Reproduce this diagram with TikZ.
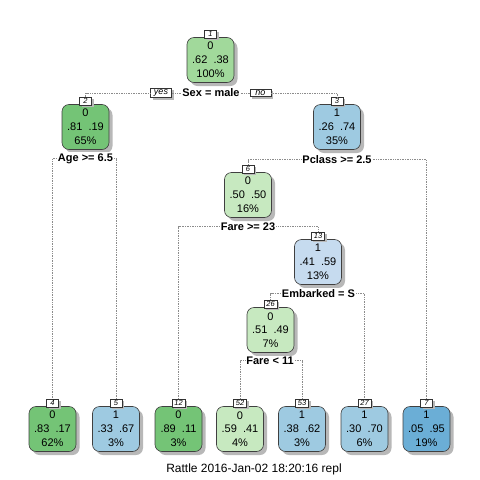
\documentclass[tikz,border=0pt]{standalone}
\usepackage{fontspec}
\setmainfont{Liberation Sans}
\definecolor{gA}{HTML}{C7E9C0}
\definecolor{gB}{HTML}{A1D99B}
\definecolor{gC}{HTML}{74C476}
\definecolor{bA}{HTML}{C6DBEF}
\definecolor{bB}{HTML}{9ECAE1}
\definecolor{bC}{HTML}{6BAED6}
\definecolor{shade}{HTML}{B8B8B8}
\begin{document}
\begin{tikzpicture}[x=1pt,y=-1pt,
  shadowed/.style={preaction={fill=shade, transform canvas={shift={(#1,-#1)}}}},
  box/.style={draw=black!75, line width=0.6pt, rounded corners=7pt,
    minimum width=47pt, minimum height=45pt, inner sep=0pt, align=center,
    font=\fontsize{11}{13.8}\selectfont, shadowed=3.5pt},
  numlbl/.style={draw=black!80, line width=0.5pt, fill=white, anchor=south,
    font=\fontsize{7.5}{8}\selectfont\itshape, inner xsep=2.5pt, inner ysep=0.5pt,
    minimum width=12pt, minimum height=7.5pt, shadowed=2pt},
  split/.style={fill=white, inner sep=1pt, font=\fontsize{11}{13}\selectfont\bfseries},
  yesno/.style={draw=black!80, line width=0.5pt, fill=white, inner xsep=3pt, inner ysep=1.2pt,
    minimum width=21pt, font=\fontsize{9}{10}\selectfont\itshape, shadowed=2pt},
  conn/.style={draw=black!45, line width=0.6pt, dash pattern=on 0.6pt off 1.1pt}
]
\useasboundingbox (0,0) rectangle (480,480);

% tree nodes (class, probabilities, share of cases)
\node[box, fill=gB] (n1)  at (210.5,60)  {0\\.62\ \ .38\\100\%};
\node[box, fill=gC] (n2)  at (85.5,127)  {0\\.81\ \ .19\\65\%};
\node[box, fill=bB] (n3)  at (337,127)   {1\\.26\ \ .74\\35\%};
\node[box, fill=gA] (n6)  at (248,195)   {0\\.50\ \ .50\\16\%};
\node[box, fill=bA] (n13) at (318,262)   {1\\.41\ \ .59\\13\%};
\node[box, fill=gA] (n26) at (270.5,330) {0\\.51\ \ .49\\7\%};
\node[box, fill=gC] (n4)  at (52.5,429)  {0\\.83\ \ .17\\62\%};
\node[box, fill=bB] (n5)  at (116,429)   {1\\.33\ \ .67\\3\%};
\node[box, fill=gC] (n12) at (178.5,429) {0\\.89\ \ .11\\3\%};
\node[box, fill=gA] (n52) at (240,429)   {0\\.59\ \ .41\\4\%};
\node[box, fill=bB] (n53) at (302,429)   {1\\.38\ \ .62\\3\%};
\node[box, fill=bB] (n27) at (364.5,429) {1\\.30\ \ .70\\6\%};
\node[box, fill=bC] (n7)  at (426.5,429) {1\\.05\ \ .95\\19\%};

% node numbers
\foreach \n in {1,2,3,6,13,26,4,5,12,52,53,27,7}
  \node[numlbl] (l\n) at ([yshift=-0.8pt]n\n.north) {\n};

% split labels
\node[split] (s1)  at (211,93)    {Sex = male};
\node[split] (s2)  at (85.5,158.5) {Age >= 6.5};
\node[split] (s3)  at (337,159.5)  {Pclass >= 2.5};
\node[split] (s6)  at (248,226.5)  {Fare >= 23};
\node[split] (s13) at (318.5,293.5) {Embarked = S};
\node[split] (s26) at (270,360.5)  {Fare < 11};
\node[yesno] (yes) at (161,93)   {yes};
\node[yesno] (no)  at (260.5,93) {no};

% connectors
\draw[conn] (yes.west) -| (l2.north);
\draw[conn] (yes.east) -- (s1.west);
\draw[conn] (s1.east) -- (no.west);
\draw[conn] (no.east) -| (l3.north);
\draw[conn] (s2.west) -| (l4.north);
\draw[conn] (s2.east) -| (l5.north);
\draw[conn] (s3.west) -| (l6.north);
\draw[conn] (s3.east) -| (l7.north);
\draw[conn] (s6.west) -| (l12.north);
\draw[conn] (s6.east) -| (l13.north);
\draw[conn] (s13.west) -| (l26.north);
\draw[conn] (s13.east) -| (l27.north);
\draw[conn] (s26.west) -| (l52.north);
\draw[conn] (s26.east) -| (l53.north);

\node[font=\fontsize{12}{14}\selectfont] (cap) at (254,469) {Rattle 2016-Jan-02 18:20:16 repl};
\end{tikzpicture}
\end{document}
